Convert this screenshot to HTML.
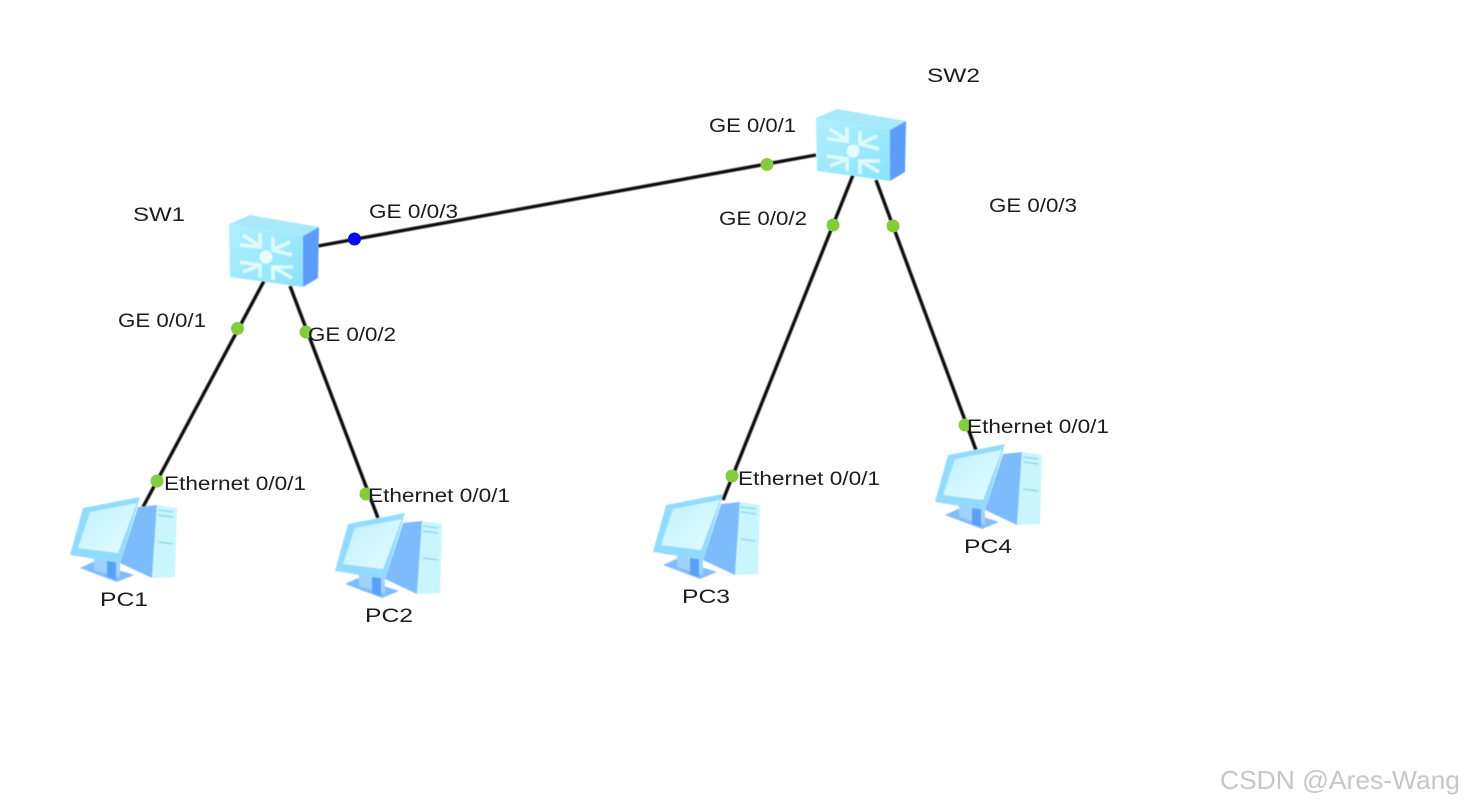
<!DOCTYPE html>
<html><head><meta charset="utf-8"><style>
html,body{margin:0;padding:0;background:#fff;width:1464px;height:806px;overflow:hidden}
svg{display:block}
text{font-family:"Liberation Sans",sans-serif;font-size:19.5px;fill:#1c1c1c;}
</style></head><body>
<svg width="1464" height="806" viewBox="0 0 1464 806" xmlns="http://www.w3.org/2000/svg">
<defs>
<filter id="b" x="-5%" y="-5%" width="110%" height="110%"><feGaussianBlur stdDeviation="0.6"/></filter>
<filter id="t" x="-5%" y="-20%" width="110%" height="140%"><feGaussianBlur stdDeviation="0.35"/></filter>
<filter id="l" x="-5%" y="-5%" width="110%" height="110%"><feGaussianBlur stdDeviation="0.5"/></filter>
<linearGradient id="fr" x1="0" y1="0" x2="1" y2="1"><stop offset="0" stop-color="#b0f0ff"/><stop offset="1" stop-color="#8be2fa"/></linearGradient>
<linearGradient id="sc" x1="0" y1="0" x2="1" y2="1"><stop offset="0" stop-color="#c0f1fd"/><stop offset="1" stop-color="#e4fbff"/></linearGradient>
<g id="sw" filter="url(#b)">
<polygon points="229,224 250,215 319,227 303,236" fill="#a8e8fb"/>
<polygon points="229,224 303,236 303,287 230,277" fill="url(#fr)"/>
<polygon points="303,236 319,227 318,278 303,287" fill="#5b9dfb"/>
<circle cx="266" cy="257" r="6.500" fill="#e8fcff"/>
<g fill="none" stroke="#dffaff" stroke-width="3.6">
<path d="M260,233 L260,247 L240,245 M243,235 L258,245"/>
<path d="M273,237 L273,250 L292,255 M290,242 L275,249"/>
<path d="M240,262 L260,265 L260,277 M243,272 L258,266"/>
<path d="M293,267 L273,267 L273,280 M292,278 L275,268"/>
</g>
</g>
<g id="pc" filter="url(#b)">
<polygon points="80,568 93,562 134,575 117,582" fill="#82bcfb"/>
<polygon points="94,558 120,558 120,578 94,570" fill="#9fd2fd"/>
<polygon points="107,560 116,561 116,580 107,577" fill="#5aa0f6"/>
<polygon points="138,507 157,505 152,578 120,563" fill="#7dbcfc"/>
<polygon points="157,505 177,508 175,577 152,578" fill="#c9f5fd"/>
<g stroke="#8fdcef" stroke-width="1.500"><line x1="158" y1="510" x2="173" y2="512"/><line x1="158" y1="515" x2="173" y2="517"/><line x1="158" y1="542" x2="173" y2="544"/></g>
<polygon points="83,508 140,497 120,563 70,555" fill="#93dbfd"/>
<polygon points="90,512 137,503 118,553 78,548" fill="url(#sc)"/>
</g>
</defs>
<rect width="1464" height="806" fill="#fff"/>
<g stroke="#111" stroke-width="3.400" fill="none" filter="url(#l)">
<line x1="318" y1="246" x2="816" y2="155"/>
<line x1="264" y1="281" x2="143" y2="507"/>
<line x1="290" y1="286" x2="378" y2="518"/>
<line x1="853" y1="175" x2="723" y2="500"/>
<line x1="876" y1="180" x2="976" y2="450"/>
</g>
<use href="#sw"/>
<use href="#sw" transform="translate(587,-106)"/>
<use href="#pc"/>
<use href="#pc" transform="translate(265,16)"/>
<use href="#pc" transform="translate(583,-3)"/>
<use href="#pc" transform="translate(865,-53)"/>
<g fill="#84cc3c">
<circle cx="767" cy="164.500" r="6.500"/>
<circle cx="237.500" cy="328.500" r="6.500"/>
<circle cx="306" cy="332" r="6.500"/>
<circle cx="157" cy="481" r="6.500"/>
<circle cx="366" cy="494" r="6.500"/>
<circle cx="833" cy="225" r="6.500"/>
<circle cx="893" cy="226" r="6.500"/>
<circle cx="732" cy="476" r="6.500"/>
<circle cx="965" cy="425" r="6.500"/>
</g>
<circle cx="354.500" cy="239" r="6.500" fill="#0a0aee"/>
<g filter="url(#t)">
<text x="133" y="221" textLength="52" lengthAdjust="spacingAndGlyphs">SW1</text>
<text x="927" y="82" textLength="53" lengthAdjust="spacingAndGlyphs">SW2</text>
<text x="369" y="218" textLength="89" lengthAdjust="spacingAndGlyphs">GE 0/0/3</text>
<text x="709" y="132" textLength="87" lengthAdjust="spacingAndGlyphs">GE 0/0/1</text>
<text x="719" y="225" textLength="88" lengthAdjust="spacingAndGlyphs">GE 0/0/2</text>
<text x="989" y="212" textLength="88" lengthAdjust="spacingAndGlyphs">GE 0/0/3</text>
<text x="118" y="327" textLength="88" lengthAdjust="spacingAndGlyphs">GE 0/0/1</text>
<text x="308" y="341" textLength="88" lengthAdjust="spacingAndGlyphs">GE 0/0/2</text>
<text x="164" y="490" textLength="142" lengthAdjust="spacingAndGlyphs">Ethernet 0/0/1</text>
<text x="368" y="502" textLength="142" lengthAdjust="spacingAndGlyphs">Ethernet 0/0/1</text>
<text x="738" y="485" textLength="142" lengthAdjust="spacingAndGlyphs">Ethernet 0/0/1</text>
<text x="967" y="433" textLength="142" lengthAdjust="spacingAndGlyphs">Ethernet 0/0/1</text>
<text x="100" y="606" textLength="48" lengthAdjust="spacingAndGlyphs">PC1</text>
<text x="365" y="622" textLength="48" lengthAdjust="spacingAndGlyphs">PC2</text>
<text x="682" y="603" textLength="48" lengthAdjust="spacingAndGlyphs">PC3</text>
<text x="964" y="553" textLength="48" lengthAdjust="spacingAndGlyphs">PC4</text>
<text x="1220" y="789" textLength="240" lengthAdjust="spacingAndGlyphs" style="font-size:26px;fill:#c6c6c6">CSDN @Ares-Wang</text>
</g>
</svg>
</body></html>
